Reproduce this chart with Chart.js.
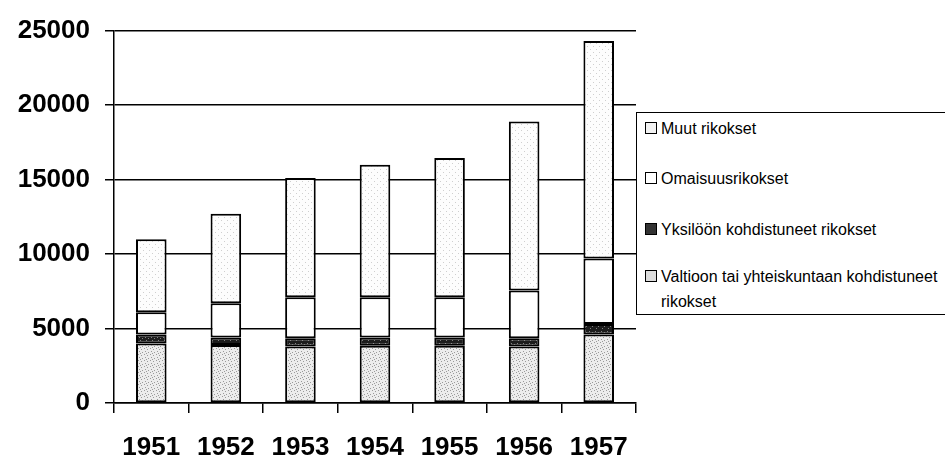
<!DOCTYPE html>
<html>
<head>
<meta charset="utf-8">
<script src="https://cdn.jsdelivr.net/npm/chart.js@4.4.1/dist/chart.umd.min.js"></script>
<style>
  html, body { margin: 0; padding: 0; background: #fff; }
  #wrap { position: relative; width: 945px; height: 461px; }
  #legend {
    position: absolute; left: 636px; top: 112px; width: 330px; height: 203px;
    border: 1.5px solid #000; box-sizing: border-box; background: #fff; color: #000;
  }
  .item { position: absolute; left: 8px; width: 310px; line-height: 21px;
    font-family: "Liberation Sans", Arial, sans-serif; font-size: 16px; }
  .item.two { line-height: 25px; }
  .sw { display: inline-block; width: 10px; height: 10px; border: 1px solid #000; margin-right: 4px; vertical-align: 0px; }
  .txt { display: inline-block; vertical-align: top; }
</style>
</head>
<body>
<div id="wrap">
  <canvas id="myChart" width="945" height="461"></canvas>
  <div id="legend"></div>
</div>
<script>
var years = ['1951', '1952', '1953', '1954', '1955', '1956', '1957'];
var valtioon = [4000, 3900, 3800, 3850, 3850, 3800, 4600];
var yksiloon = [600, 500, 550, 550, 550, 550, 700];
var omaisuus = [1500, 2300, 2750, 2700, 2700, 3200, 4400];
var muut = [4900, 6000, 8000, 8900, 9350, 11350, 14600];
var seriesNames = ['Valtioon tai yhteiskuntaan kohdistuneet rikokset', 'Yksilöön kohdistuneet rikokset', 'Omaisuusrikokset', 'Muut rikokset'];

// stipple fills like the printed original
function stipple(bg, fg, dots) {
  var c = document.createElement('canvas');
  c.width = 6; c.height = 6;
  var g = c.getContext('2d');
  g.fillStyle = bg;
  g.fillRect(0, 0, 6, 6);
  g.fillStyle = fg;
  dots.forEach(function (d) { g.fillRect(d[0], d[1], 1, 1); });
  return g.createPattern(c, 'repeat');
}

var fills = [
  stipple('#ececec', '#9a9a9a', [[0, 0], [3, 1], [1, 3], [4, 4], [2, 5]]),
  stipple('#1c1c1c', '#808080', [[1, 1], [4, 2], [2, 4]]),
  '#ffffff',
  stipple('#fdfdfd', '#cfcfcf', [[2, 1], [5, 4]])
];
var swatches = ['#dcdcdc', '#333333', '#ffffff', '#f2f2f2'];
var values = [valtioon, yksiloon, omaisuus, muut];

var datasets = values.map(function (v, i) {
  return {
    label: seriesNames[i],
    data: v,
    backgroundColor: fills[i],
    borderColor: '#000',
    borderWidth: 2,
    borderSkipped: false,
    barPercentage: 0.41,
    categoryPercentage: 1
  };
});

var chart = new Chart(document.getElementById('myChart'), {
  type: 'bar',
  data: { labels: years, datasets: datasets },
  options: {
    responsive: false,
    animation: false,
    layout: { padding: { left: 0, right: 309, top: 24, bottom: 0 } },
    plugins: { legend: { display: false }, tooltip: { enabled: false } },
    scales: {
      x: {
        stacked: true,
        afterFit: function (s) { s.height = 58; },
        grid: { offset: true, drawOnChartArea: false, color: '#000', tickLength: 10, lineWidth: 1.5 },
        border: { color: '#000', width: 1.5 },
        ticks: { color: '#000', padding: 19, font: { family: 'Liberation Sans, Arial, sans-serif', size: 26, weight: 'bold' } }
      },
      y: {
        stacked: true,
        min: 0, max: 25000,
        afterFit: function (s) { s.width = 114; },
        grid: { color: '#000', lineWidth: 1.5, tickLength: 9 },
        border: { color: '#000', width: 1.5 },
        ticks: {
          stepSize: 5000, color: '#000', padding: 15,
          font: { family: 'Liberation Sans, Arial, sans-serif', size: 26, weight: 'bold' },
          callback: function (v) { return String(v); }
        }
      }
    }
  }
});

// legend, top to bottom in reverse order like the original
var legend = document.getElementById('legend');
var tops = [5, 55, 106, 151];
for (var k = 0; k < 4; k++) {
  var i = 3 - k;
  var el = document.createElement('div');
  el.className = 'item' + (i === 0 ? ' two' : '');
  el.style.top = tops[k] + 'px';
  var sw = '<span class="sw" style="background:' + swatches[i] + '"></span>';
  var name = seriesNames[i];
  if (i === 0) name = 'Valtioon tai yhteiskuntaan kohdistuneet<br>rikokset';
  el.innerHTML = sw + '<span class="txt">' + name + '</span>';
  legend.appendChild(el);
}
</script>
</body>
</html>
